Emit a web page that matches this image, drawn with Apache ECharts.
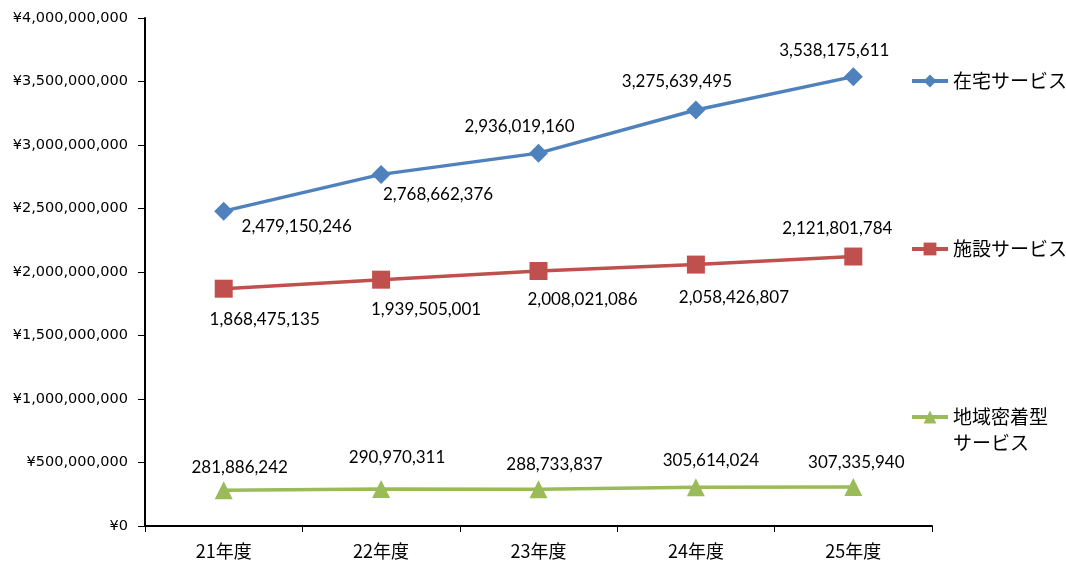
<!DOCTYPE html>
<html>
<head>
<meta charset="utf-8">
<script src="https://cdn.jsdelivr.net/npm/echarts@6/dist/echarts.min.js"></script>
<style>
  html, body { margin: 0; padding: 0; background: #fff; }
  #chart { width: 1066px; height: 562px; }
</style>
</head>
<body>
<div id="chart"></div>
<script>
// Fiscal years
const categories = ['21年度', '22年度', '23年度', '24年度', '25年度'];

// Benefit amounts (yen) by service type
const seriesNames = ['在宅サービス', '施設サービス', '地域密着型サービス'];
const homeCare = [2479150246, 2768662376, 2936019160, 3275639495, 3538175611];
const facilityCare = [1868475135, 1939505001, 2008021086, 2058426807, 2121801784];
const communityCare = [281886242, 290970311, 288733837, 305614024, 307335940];

// Y axis range
const yMin = 0;
const yMax = 4000000000;
const yStep = 500000000;

const fmt = v => v.toLocaleString('en-US');

// label placement per point: [dx, dy] from the marker centre
const labelShift = {
  home: [[73, 15], [57, 20], [-19, -27], [-19, -28], [-19, -26]],
  facility: [[41, 31], [45, 30], [44, 29], [38, 33], [-16, -28]],
  community: [[16, -23], [16, -32], [16, -25], [15, -27], [3, -24]]
};

const labelFont = { color: '#000', fontFamily: 'Lato', fontSize: 17 };

function buildSeries(name, values, color, symbol, symbolSize, shifts) {
  return {
    name: name,
    type: 'line',
    data: values.map((v, i) => ({
      value: v,
      label: { show: true, position: 'inside', offset: shifts[i], formatter: p => fmt(p.value), ...labelFont }
    })),
    symbol: symbol,
    symbolSize: symbolSize,
    lineStyle: { color: color, width: 3.5 },
    itemStyle: { color: color },
    emphasis: { disabled: true },
    animation: false
  };
}

const legendText = { fontFamily: 'Noto Sans CJK JP', fontSize: 19, color: '#000', lineHeight: 26 };
const legendBase = {
  left: 910, itemWidth: 36, itemHeight: 16, itemGap: 0, padding: 0,
  selectedMode: false, lineStyle: { width: 4 }, textStyle: legendText
};

const option = {
  backgroundColor: '#fff',
  animation: false,
  grid: { left: 145, right: 134, top: 18, bottom: 36, containLabel: false },
  legend: [
    { ...legendBase, data: [seriesNames[0]], top: 68 },
    { ...legendBase, data: [seriesNames[1]], top: 236 },
    // blank first line keeps the marker level with the first text row
    { ...legendBase, data: [seriesNames[2]], top: 378, formatter: () => ' \n地域密着型\nサービス' }
  ],
  xAxis: {
    type: 'category',
    data: categories,
    boundaryGap: true,
    axisLine: { lineStyle: { color: '#000', width: 2 } },
    axisTick: { show: true, length: 6, interval: 0, lineStyle: { color: '#000', width: 1 } },
    axisLabel: { color: '#000', fontFamily: 'Noto Sans CJK JP', fontSize: 18, margin: 16 }
  },
  yAxis: {
    type: 'value',
    min: yMin,
    max: yMax,
    interval: yStep,
    splitLine: { show: false },
    axisLine: { show: true, lineStyle: { color: '#000', width: 2 } },
    axisTick: { show: true, length: 7, lineStyle: { color: '#000', width: 1 } },
    axisLabel: { color: '#000', fontFamily: 'DejaVu Sans', fontSize: 14.5, margin: 17, formatter: v => '¥' + fmt(v) }
  },
  series: [
    buildSeries(seriesNames[0], homeCare, '#4F81BD', 'diamond', 19, labelShift.home),
    buildSeries(seriesNames[1], facilityCare, '#C0504D', 'rect', 18, labelShift.facility),
    buildSeries(seriesNames[2], communityCare, '#9BBB59', 'triangle', 18, labelShift.community)
  ]
};

const chart = echarts.init(document.getElementById('chart'), null, { renderer: 'canvas' });
chart.setOption(option);
</script>
</body>
</html>
